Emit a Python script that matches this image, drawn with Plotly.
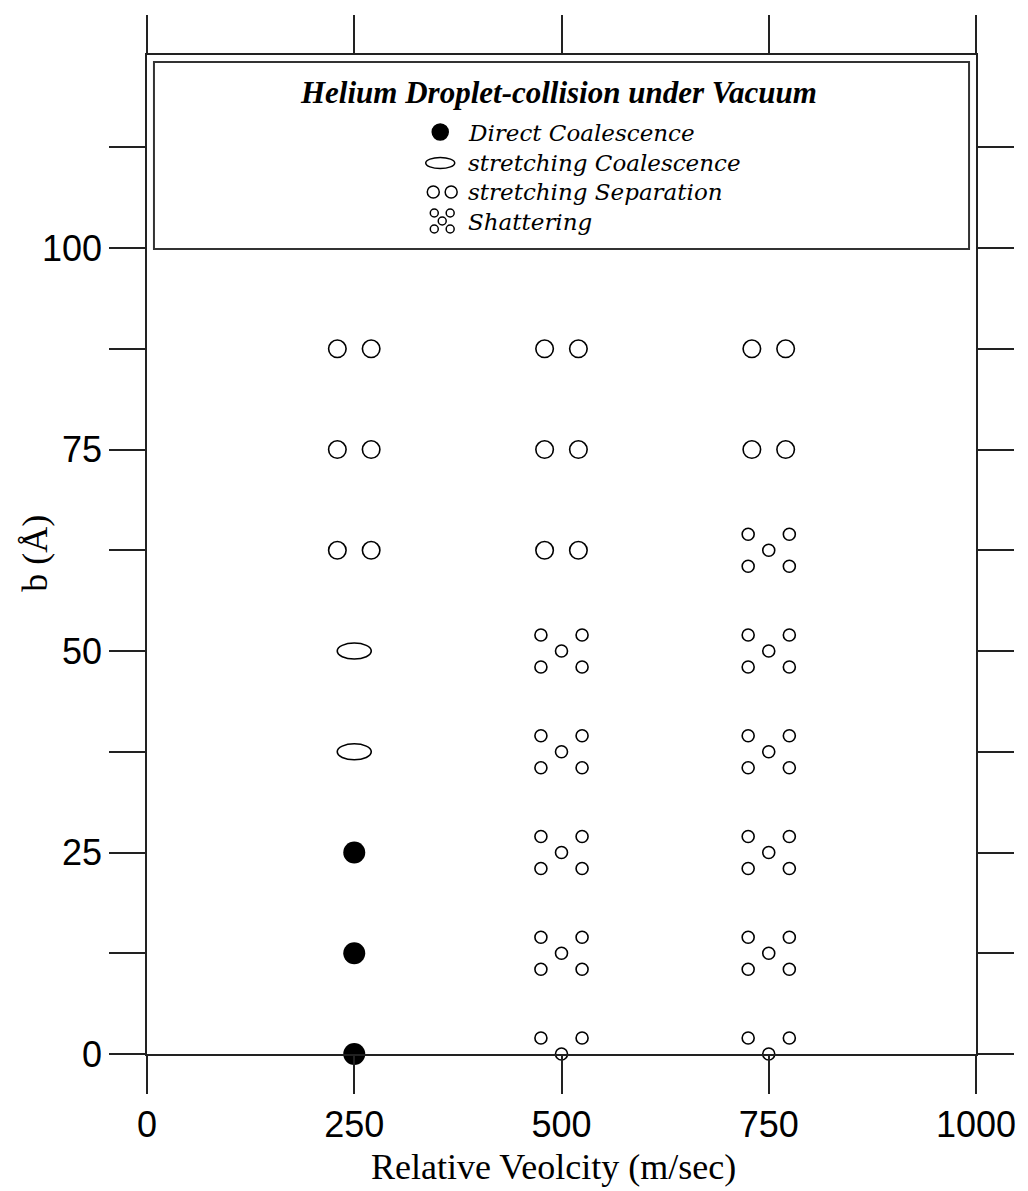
import plotly.graph_objects as go

# ---------------- data ----------------
x_ticks = [0, 250, 500, 750, 1000]
x_ticktext = ["0", "250", "500", "750", "1000"]
y_ticks = [0, 12.5, 25, 37.5, 50, 62.5, 75, 87.5, 100, 112.5]
y_ticktext = ["0", "", "25", "", "50", "", "75", "", "100", ""]

direct_v = [250, 250, 250]
direct_b = [0, 12.5, 25]

stretch_coal_v = [250, 250]
stretch_coal_b = [37.5, 50]

stretch_sep_v = [250, 250, 250, 500, 500, 500, 750, 750]
stretch_sep_b = [62.5, 75, 87.5, 62.5, 75, 87.5, 75, 87.5]

shatter_v = [500, 500, 500, 500, 500, 750, 750, 750, 750, 750, 750]
shatter_b = [0, 12.5, 25, 37.5, 50, 0, 12.5, 25, 37.5, 50, 62.5]

x_title = "Relative Veolcity (m/sec)"
y_title = "b (Å)"
legend_title = "Helium Droplet-collision under Vacuum"
legend_labels = ["Direct Coalescence", "stretching Coalescence",
                 "stretching Separation", "Shattering"]

# ---------------- geometry / style ----------------
W, H = 1028, 1191
PL, PR, PT, PB = 147, 981, 55, 1054   # plot area in pixels
X_RANGE = [0, 1000]
Y_RANGE = [0, 123.95]
SX = (PR - PL) / (X_RANGE[1] - X_RANGE[0])   # px per x unit
SY = (PB - PT) / (Y_RANGE[1] - Y_RANGE[0])   # px per y unit

LINE = "#222222"
PAIR_DX = 17 / SX
SH_DX = 20.7 / SX
SH_DY = 16 / SY


def pxx(p):
    return (p - PL) / (PR - PL)


def pxy(p):
    return (PB - p) / (PB - PT)


fig = go.Figure()

open_marker = dict(symbol="circle-open", color="black", line=dict(width=1.6))

# direct coalescence
fig.add_trace(go.Scatter(x=direct_v, y=direct_b, mode="markers", cliponaxis=False,
                         marker=dict(symbol="circle", size=22, color="black"),
                         hoverinfo="skip", showlegend=False))

# stretching separation: pairs
for s in (-1, 1):
    fig.add_trace(go.Scatter(x=[v + s * PAIR_DX for v in stretch_sep_v], y=stretch_sep_b,
                             mode="markers", cliponaxis=False,
                             marker=dict(size=17.5, **open_marker),
                             hoverinfo="skip", showlegend=False))

# shattering: centre + four corners
fig.add_trace(go.Scatter(x=shatter_v, y=shatter_b, mode="markers", cliponaxis=False,
                         marker=dict(size=12, **open_marker),
                         hoverinfo="skip", showlegend=False))
for sx in (-1, 1):
    for sy in (-1, 1):
        fig.add_trace(go.Scatter(x=[v + sx * SH_DX for v in shatter_v],
                                 y=[b + sy * SH_DY for b in shatter_b],
                                 mode="markers", cliponaxis=False,
                                 marker=dict(size=12, **open_marker),
                                 hoverinfo="skip", showlegend=False))

shapes = []
# stretching coalescence: ovals anchored at data points
for v, b in zip(stretch_coal_v, stretch_coal_b):
    shapes.append(dict(type="circle", xref="x", yref="y", xsizemode="pixel", ysizemode="pixel",
                       xanchor=v, yanchor=b, x0=-17, x1=17, y0=-8, y1=8,
                       line=dict(color="black", width=1.6), fillcolor="white", layer="above"))

# legend box
shapes.append(dict(type="rect", xref="paper", yref="paper",
                   x0=pxx(154), x1=pxx(974), y0=pxy(249), y1=pxy(62),
                   line=dict(color="#333333", width=2), fillcolor="rgba(0,0,0,0)"))


def pcircle(cx, cy, w, h, fill=False):
    return dict(type="circle", xref="paper", yref="paper", xsizemode="pixel", ysizemode="pixel",
                xanchor=pxx(cx), yanchor=pxy(cy), x0=-w / 2, x1=w / 2, y0=-h / 2, y1=h / 2,
                line=dict(color="black", width=1.5), fillcolor="black" if fill else "white")


# legend symbols
shapes.append(pcircle(442, 132, 16, 16, fill=True))
shapes.append(pcircle(442, 163, 29, 11))
shapes.append(pcircle(435, 192, 12, 12))
shapes.append(pcircle(453, 192, 12, 12))
for cx, cy in [(436, 213), (452, 213), (444, 221), (436, 229), (452, 229)]:
    shapes.append(pcircle(cx, cy, 8, 8))

annotations = [
    dict(xref="paper", yref="paper", x=pxx(561), y=pxy(92), xanchor="center", yanchor="middle",
         text="<b><i>" + legend_title + "</i></b>", showarrow=False,
         font=dict(family="Liberation Serif", size=31, color="black")),
    dict(xref="paper", yref="paper", x=pxx(556), y=pxy(1167), xanchor="center", yanchor="middle",
         text=x_title, showarrow=False,
         font=dict(family="Liberation Serif", size=36, color="black")),
    dict(xref="paper", yref="paper", x=pxx(34), y=pxy(553), xanchor="center", yanchor="middle",
         text=y_title, textangle=-90, showarrow=False,
         font=dict(family="Liberation Serif", size=36, color="black")),
]
for i, lab in enumerate(legend_labels):
    annotations.append(dict(xref="paper", yref="paper", x=pxx(468), y=pxy(133 + i * 29.7),
                            xanchor="left", yanchor="middle", text="<i>" + lab + "</i>",
                            showarrow=False,
                            font=dict(family="DejaVu Serif", size=23, color="black")))

axis_common = dict(showgrid=False, zeroline=False, showline=True, linecolor=LINE, linewidth=1.6,
                   ticks="outside", tickcolor=LINE, tickwidth=1.6, mirror="allticks",
                   tickfont=dict(family="Liberation Sans", size=36, color="black"))

fig.update_layout(
    width=W, height=H,
    margin=dict(l=PL, r=W - PR, t=PT, b=H - PB, pad=0),
    paper_bgcolor="white", plot_bgcolor="white",
    xaxis=dict(range=X_RANGE, tickvals=x_ticks, ticktext=x_ticktext, ticklen=38,
               **axis_common),
    yaxis=dict(range=Y_RANGE, tickvals=y_ticks, ticktext=y_ticktext, ticklen=36,
               **axis_common),
    shapes=shapes,
    annotations=annotations,
)

fig.write_html("out.html", config={"displayModeBar": False},
               post_script="document.body.style.margin='0';document.body.style.overflow='hidden';")
